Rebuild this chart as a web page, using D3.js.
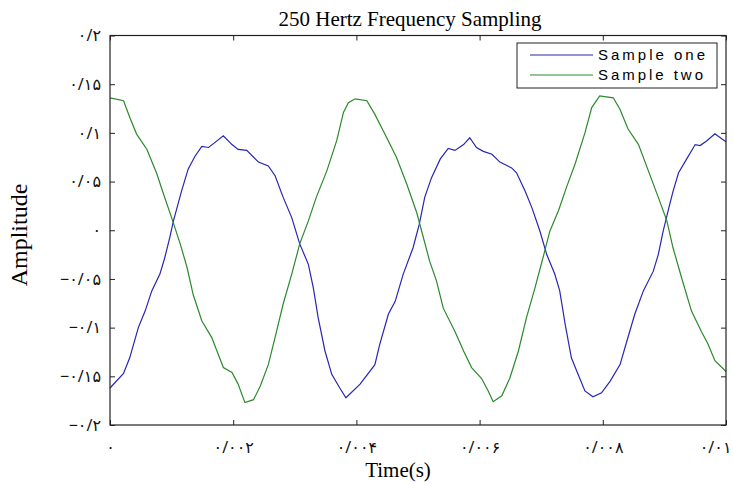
<!DOCTYPE html>
<html>
<head>
<meta charset="utf-8">
<script src="https://cdn.jsdelivr.net/npm/d3@7"></script>
<style>
  body { margin: 0; background: #fff; }
  #chart { width: 733px; height: 485px; }
</style>
</head>
<body>
<div id="chart"></div>
<script>
// Sample one (blue) - time in seconds, amplitude
const timeOne = [0, 0.00022, 0.00032, 0.00046, 0.00057, 0.00068, 0.00081, 0.00089, 0.00097, 0.00103,
  0.00116, 0.00127, 0.00138, 0.00149, 0.0016, 0.0017, 0.00184, 0.00198, 0.00208, 0.00222,
  0.00241, 0.00257, 0.00268, 0.00281, 0.00295, 0.00308, 0.00322, 0.0033, 0.00338, 0.00349,
  0.0036, 0.00373, 0.00383, 0.00406, 0.0043, 0.00438, 0.00452, 0.00463, 0.00476, 0.00492,
  0.00502, 0.00511, 0.00522, 0.00536, 0.00549, 0.0056, 0.00574, 0.00584, 0.00595, 0.00606,
  0.0062, 0.00633, 0.00652, 0.0066, 0.00674, 0.00685, 0.00698, 0.00709, 0.00722, 0.0073,
  0.00739, 0.00749, 0.00758, 0.00771, 0.00784, 0.00798, 0.00812, 0.00828, 0.00839, 0.00852,
  0.00866, 0.00882, 0.0089, 0.00898, 0.00906, 0.00914, 0.00923, 0.00936, 0.0095, 0.00958,
  0.00969, 0.00982, 0.00993, 0.01];
const ampOne = [-0.162, -0.147, -0.131, -0.100, -0.083, -0.062, -0.045, -0.028, -0.0075, 0.0096,
  0.040, 0.063, 0.076, 0.086, 0.085, 0.090, 0.097, 0.088, 0.083, 0.082,
  0.070, 0.066, 0.056, 0.034, 0.013, -0.014, -0.035, -0.059, -0.090, -0.124,
  -0.148, -0.162, -0.172, -0.158, -0.138, -0.117, -0.086, -0.073, -0.045, -0.018,
  0.006, 0.034, 0.054, 0.073, 0.084, 0.082, 0.088, 0.095, 0.085, 0.081,
  0.078, 0.070, 0.064, 0.059, 0.040, 0.023, -0.001, -0.025, -0.045, -0.062,
  -0.097, -0.131, -0.145, -0.165, -0.171, -0.167, -0.155, -0.138, -0.114, -0.086,
  -0.062, -0.042, -0.025, -0.001, 0.020, 0.040, 0.059, 0.073, 0.088, 0.087,
  0.092, 0.099, 0.094, 0.091];

// Sample two (green)
const timeTwo = [0, 0.00022, 0.00032, 0.00043, 0.0006, 0.00076, 0.00087, 0.001, 0.00114, 0.00125,
  0.00135, 0.00149, 0.00165, 0.00184, 0.00198, 0.00208, 0.00219, 0.00233, 0.00244, 0.00257,
  0.00268, 0.00281, 0.00295, 0.00308, 0.00322, 0.00335, 0.00352, 0.00368, 0.00379, 0.00387,
  0.00398, 0.00417, 0.0043, 0.00446, 0.00465, 0.00482, 0.00498, 0.00506, 0.00519, 0.0053,
  0.00541, 0.0056, 0.00574, 0.00587, 0.00603, 0.00614, 0.00622, 0.00636, 0.00649, 0.00663,
  0.00676, 0.0069, 0.00703, 0.00714, 0.00728, 0.00741, 0.00755, 0.00771, 0.00782, 0.00795,
  0.00817, 0.00828, 0.00841, 0.00858, 0.00874, 0.0089, 0.00904, 0.00914, 0.00928, 0.00944,
  0.0096, 0.00971, 0.00982, 0.01];
const ampTwo = [0.136, 0.133, 0.116, 0.099, 0.083, 0.058, 0.037, 0.013, -0.014, -0.038,
  -0.066, -0.093, -0.110, -0.141, -0.146, -0.158, -0.177, -0.174, -0.160, -0.138,
  -0.110, -0.076, -0.045, -0.014, 0.0096, 0.034, 0.061, 0.092, 0.121, 0.131,
  0.135, 0.133, 0.119, 0.099, 0.075, 0.047, 0.018, -0.001, -0.032, -0.052,
  -0.080, -0.104, -0.124, -0.141, -0.152, -0.165, -0.176, -0.170, -0.152, -0.124,
  -0.090, -0.059, -0.028, -0.001, 0.020, 0.044, 0.068, 0.100, 0.126, 0.138,
  0.136, 0.124, 0.104, 0.088, 0.061, 0.034, 0.0096, -0.018, -0.049, -0.083,
  -0.104, -0.117, -0.134, -0.145];

const xTicks = [0, 0.002, 0.004, 0.006, 0.008, 0.01];
const xTickLabels = ['۰', '۰/۰۰۲', '۰/۰۰۴', '۰/۰۰۶', '۰/۰۰۸', '۰/۰۱'];
const yTicks = [0.2, 0.15, 0.1, 0.05, 0, -0.05, -0.1, -0.15, -0.2];
const yTickLabels = ['۰/۲', '۰/۱۵', '۰/۱', '۰/۰۵', '۰', '−۰/۰۵', '−۰/۱', '−۰/۱۵', '−۰/۲'];
const seriesNames = ['Sample one', 'Sample two'];
const seriesColors = ['#2626b4', '#2b892b'];

const width = 733, height = 485;
const m = { left: 110, right: 7, top: 35.5, bottom: 60 };

const svg = d3.select('#chart').append('svg')
    .attr('width', width).attr('height', height);

const x = d3.scaleLinear().domain([0, 0.01]).range([m.left, width - m.right]);
const y = d3.scaleLinear().domain([-0.2, 0.2]).range([height - m.bottom, m.top]);

const tickFont = '"Noto Sans", "DejaVu Sans", sans-serif';
const serif = '"Liberation Serif", "Times New Roman", serif';

// Axes with inward ticks (MATLAB box style)
svg.append('g')
    .attr('transform', `translate(0,${y(-0.2)})`)
    .call(d3.axisBottom(x).tickValues(xTicks).tickSize(-5).tickPadding(17)
      .tickFormat((d, i) => xTickLabels[i]))
    .call(g => g.select('.domain').remove())
    .call(g => g.selectAll('.tick:last-of-type text')
      .attr('text-anchor', 'end').attr('x', 5));
svg.append('g')
    .attr('transform', `translate(0,${y(0.2)})`)
    .call(d3.axisTop(x).tickValues(xTicks).tickSize(-5).tickFormat(''))
    .call(g => g.select('.domain').remove());
svg.append('g')
    .attr('transform', `translate(${x(0)},0)`)
    .call(d3.axisLeft(y).tickValues(yTicks).tickSize(-5).tickPadding(9)
      .tickFormat((d, i) => yTickLabels[i]))
    .call(g => g.select('.domain').remove());
svg.append('g')
    .attr('transform', `translate(${x(0.01)},0)`)
    .call(d3.axisRight(y).tickValues(yTicks).tickSize(-5).tickFormat(''))
    .call(g => g.select('.domain').remove());

svg.selectAll('.tick line').attr('stroke', '#222');
svg.selectAll('.tick text')
    .attr('font-family', tickFont).attr('font-size', 16).attr('fill', '#111');

// Lines
const line = d3.line().x(d => x(d[0])).y(d => y(d[1]));
const series = [
  timeOne.map((t, i) => [t, ampOne[i]]),
  timeTwo.map((t, i) => [t, ampTwo[i]])
];
svg.append('g').selectAll('path')
  .data(series)
  .enter().append('path')
    .attr('d', line)
    .attr('fill', 'none')
    .attr('stroke', (d, i) => seriesColors[i])
    .attr('stroke-width', 1.2);

// Frame
svg.append('rect')
    .attr('x', x(0)).attr('y', y(0.2))
    .attr('width', x(0.01) - x(0)).attr('height', y(-0.2) - y(0.2))
    .attr('fill', 'none').attr('stroke', '#222').attr('stroke-width', 1.2);

// Title and axis labels
svg.append('text')
    .attr('x', 410).attr('y', 26)
    .attr('text-anchor', 'middle')
    .attr('font-family', serif).attr('font-size', 21)
    .text('250 Hertz Frequency Sampling');
svg.append('text')
    .attr('x', 398).attr('y', 477)
    .attr('text-anchor', 'middle')
    .attr('font-family', serif).attr('font-size', 21)
    .text('Time(s)');
svg.append('text')
    .attr('transform', 'translate(27,235) rotate(-90)')
    .attr('text-anchor', 'middle')
    .attr('font-family', serif).attr('font-size', 24)
    .text('Amplitude');

// Legend
const legend = svg.append('g').attr('transform', 'translate(517,43)');
legend.append('rect')
    .attr('width', 200).attr('height', 45)
    .attr('fill', '#fff').attr('stroke', '#222').attr('stroke-width', 1);
seriesNames.forEach((name, i) => {
  const ly = 12 + i * 20;
  legend.append('line')
      .attr('x1', 13).attr('x2', 76).attr('y1', ly).attr('y2', ly)
      .attr('stroke', seriesColors[i]).attr('stroke-width', 1.2);
  legend.append('text')
      .attr('x', 81).attr('y', ly + 5)
      .attr('font-family', '"Liberation Sans", Arial, sans-serif')
      .attr('font-size', 15)
      .attr('textLength', i === 0 ? 107 : 105)
      .text(name);
});
</script>
</body>
</html>
